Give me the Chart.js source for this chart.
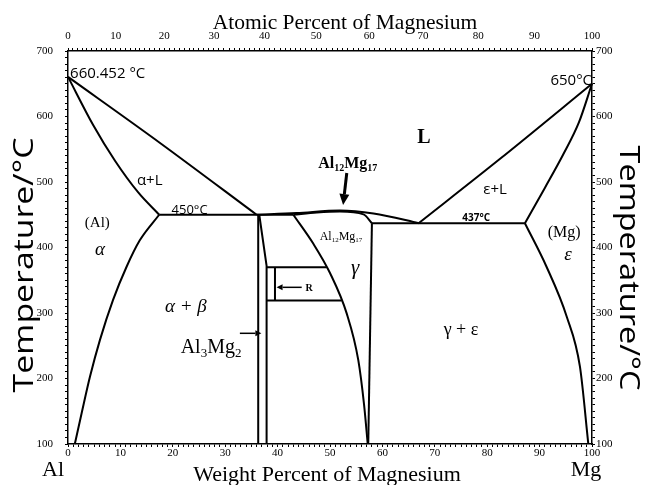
<!DOCTYPE html>
<html>
<head>
<meta charset="utf-8">
<script src="https://cdn.jsdelivr.net/npm/chart.js@4.4.1/dist/chart.umd.min.js"></script>
<style>
  html, body { margin: 0; padding: 0; background: #fff; }
</style>
</head>
<body>
<canvas id="chart" width="645" height="485"></canvas>
<script>
// phase boundaries, x = wt.% Mg, y = temperature in °C
const alLiquidusWt = [0, 17.5, 36.0];
const alLiquidusT = [660.452, 560, 450];
const alSolidusWt = [0, 4.8, 9.0, 13.4, 17.4];
const alSolidusT = [660.452, 587, 532, 484, 450];
const alSolvusWt = [1.3, 2.6, 4.2, 6.1, 8.6, 11.2, 13.7, 17.4];
const alSolvusT = [100, 147, 203, 259, 320, 371, 411, 450];
const eutectic450Wt = [17.4, 43.0];
const eutectic450T = [450, 450];
const betaLeftWt = [36.3, 36.3];
const betaLeftT = [450, 100];
const betaRightWt = [36.5, 37.9, 37.9];
const betaRightT = [450, 372, 100];
const rTopWt = [37.9, 49.4];
const rTopT = [370, 370];
const rBottomWt = [37.9, 52.2];
const rBottomT = [319, 319];
const rInnerWt = [39.5, 39.5];
const rInnerT = [370, 319];
const gammaLeftWt = [43.0, 46.8, 50.0, 53.2, 55.4, 56.5, 57.2];
const gammaLeftT = [450, 406, 361, 299, 228, 160, 100];
const gammaRightWt = [58.0, 57.3];
const gammaRightT = [437, 100];
const gammaSolidusWt = [43.0, 47.5, 51.9, 56.4, 58.0];
const gammaSolidusT = [450, 453.5, 455, 450.5, 437];
const gammaLiquidusWt = [36.0, 43.6, 51.9, 58.3, 65.9, 66.9];
const gammaLiquidusT = [450, 452.5, 456.5, 452, 439, 437];
const eutectic437Wt = [58.0, 87.2];
const eutectic437T = [437, 437];
const mgLiquidusWt = [66.9, 82.4, 100];
const mgLiquidusT = [437, 535, 650];
const mgSolidusWt = [87.2, 91.0, 94.5, 97.5, 100];
const mgSolidusT = [437, 491, 542, 591, 650];
const mgSolvusWt = [87.2, 91.3, 95.2, 97.7, 99.3];
const mgSolvusT = [437, 371, 294, 218, 100];

// tick labels
const weightTicks = [0, 10, 20, 30, 40, 50, 60, 70, 80, 90, 100];
const atomicTicks = [0, 10, 20, 30, 40, 50, 60, 70, 80, 90, 100];
const tempTicks = [100, 200, 300, 400, 500, 600, 700];

const M_AL = 26.982, M_MG = 24.305;
const atToWt = a => 100 * a * M_MG / (a * M_MG + (100 - a) * M_AL);
const wtToAt = w => 100 * (w / M_MG) / (w / M_MG + (100 - w) / M_AL);

const serif = "'Liberation Serif', 'Times New Roman', serif";
const sans = "'Open Sans', 'Noto Sans', sans-serif";

function curve(xs, ts, smooth) {
  return {
    data: xs.map((x, i) => ({ x: x, y: ts[i] })),
    showLine: true,
    borderColor: '#000',
    borderWidth: 2,
    pointRadius: 0,
    cubicInterpolationMode: smooth ? 'monotone' : 'default',
    tension: 0,
    clip: false
  };
}

function steps(min, max, step) {
  const out = [];
  for (let v = min; v <= max + 1e-9; v += step) out.push({ value: Math.round(v * 1000) / 1000 });
  return out;
}

// in-plot labels, placed in data coordinates
const plotLabels = [
  { x: 0.4, y: 664.9, text: '660.452 °C', font: `15px ${sans}`, align: 'left' },
  { x: 100, y: 654.2, text: '650°C', font: `15px ${sans}`, align: 'right' },
  { x: 67.9, y: 567.2, text: 'L', font: `bold 20px ${serif}` },
  { x: 15.6, y: 501.5, text: 'α+L', font: `15px ${sans}` },
  { x: 23.2, y: 457.3, text: '450°C', font: `13px ${sans}` },
  { x: 81.5, y: 487.8, text: 'ε+L', font: `15px ${sans}` },
  { x: 77.9, y: 445.0, text: '437°C', font: `bold 10px ${sans}` },
  { x: 5.6, y: 437.4, text: '(Al)', font: `15px ${serif}` },
  { x: 6.1, y: 396.2, text: 'α', font: `italic 19px ${serif}` },
  { x: 94.7, y: 422.2, text: '(Mg)', font: `16px ${serif}` },
  { x: 95.4, y: 388.5, text: 'ε', font: `italic 19px ${serif}` },
  { x: 54.8, y: 368.7, text: 'γ', font: `italic 21px ${serif}` },
  { x: 46.0, y: 338.2, text: 'R', font: `bold 10px ${serif}` },
  { x: 22.5, y: 309.2, text: 'α + β', font: `italic 19px ${serif}` },
  { x: 75.0, y: 274.0, text: 'γ + ε', font: `18px ${serif}` }
];

const arrows = [
  { x1: 53.2, y1: 513.7, x2: 52.5, y2: 464.9, width: 3, head: 11, half: 5 },
  { x1: 44.6, y1: 339.2, x2: 39.8, y2: 339.2, width: 1.5, head: 6, half: 3 },
  { x1: 32.8, y1: 269.0, x2: 36.9, y2: 269.0, width: 1.5, head: 6, half: 3 }
];

function drawParts(ctx, cx, baseline, parts) {
  let w = 0;
  parts.forEach(p => { ctx.font = p.font; p.w = ctx.measureText(p.t).width; w += p.w; });
  let x = cx - w / 2;
  ctx.textAlign = 'left';
  ctx.textBaseline = 'alphabetic';
  parts.forEach(p => { ctx.font = p.font; ctx.fillText(p.t, x, baseline + (p.dy || 0)); x += p.w; });
}

function drawStretched(ctx, text, font, cx, cy, angle, length) {
  ctx.save();
  ctx.font = font;
  const w = ctx.measureText(text).width;
  ctx.translate(cx, cy);
  ctx.rotate(angle);
  ctx.scale(length / w, 1);
  ctx.textAlign = 'center';
  ctx.textBaseline = 'middle';
  ctx.fillText(text, 0, 0);
  ctx.restore();
}

const textPlugin = {
  id: 'phaseText',
  afterDatasetsDraw(chart) {
    const ctx = chart.ctx;
    const sx = chart.scales.x, sy = chart.scales.y;
    ctx.save();
    ctx.fillStyle = '#000';
    ctx.strokeStyle = '#000';

    plotLabels.forEach(l => {
      ctx.font = l.font;
      ctx.textAlign = l.align || 'center';
      ctx.textBaseline = 'middle';
      ctx.fillText(l.text, sx.getPixelForValue(l.x), sy.getPixelForValue(l.y));
    });

    drawParts(ctx, sx.getPixelForValue(53.4), sy.getPixelForValue(521.4), [
      { t: 'Al', font: `bold 16px ${serif}` },
      { t: '12', font: `bold 10px ${serif}`, dy: 3 },
      { t: 'Mg', font: `bold 16px ${serif}` },
      { t: '17', font: `bold 10px ${serif}`, dy: 3 }
    ]);
    drawParts(ctx, sx.getPixelForValue(52.1), sy.getPixelForValue(411.5), [
      { t: 'Al', font: `12px ${serif}` },
      { t: '12', font: `7px ${serif}`, dy: 2 },
      { t: 'Mg', font: `12px ${serif}` },
      { t: '17', font: `7px ${serif}`, dy: 2 }
    ]);
    drawParts(ctx, sx.getPixelForValue(27.3), sy.getPixelForValue(239), [
      { t: 'Al', font: `20px ${serif}` },
      { t: '3', font: `13px ${serif}`, dy: 4 },
      { t: 'Mg', font: `20px ${serif}` },
      { t: '2', font: `13px ${serif}`, dy: 4 }
    ]);

    arrows.forEach(a => {
      const x1 = sx.getPixelForValue(a.x1), y1 = sy.getPixelForValue(a.y1);
      const x2 = sx.getPixelForValue(a.x2), y2 = sy.getPixelForValue(a.y2);
      const ang = Math.atan2(y2 - y1, x2 - x1);
      const bx = x2 - a.head * Math.cos(ang), by = y2 - a.head * Math.sin(ang);
      ctx.lineWidth = a.width;
      ctx.beginPath();
      ctx.moveTo(x1, y1);
      ctx.lineTo(bx, by);
      ctx.stroke();
      ctx.beginPath();
      ctx.moveTo(x2, y2);
      ctx.lineTo(bx + a.half * Math.sin(ang), by - a.half * Math.cos(ang));
      ctx.lineTo(bx - a.half * Math.sin(ang), by + a.half * Math.cos(ang));
      ctx.closePath();
      ctx.fill();
    });

    // axis titles and end labels
    ctx.textAlign = 'center';
    ctx.textBaseline = 'alphabetic';
    ctx.font = `21.5px ${serif}`;
    ctx.fillText('Atomic Percent of Magnesium', 345, 29);
    ctx.font = `22px ${serif}`;
    ctx.fillText('Weight Percent of Magnesium', 327, 481);
    ctx.fillText('Al', 53, 476);
    ctx.fillText('Mg', 586, 476);
    drawStretched(ctx, 'Temperature/°C', `27px ${sans}`, 25, 265, -Math.PI / 2, 255);
    drawStretched(ctx, 'Temperature/°C', `27px ${sans}`, 628, 268, Math.PI / 2, 245);
    ctx.restore();
  }
};

const axisBase = {
  type: 'linear',
  border: { display: true, color: '#000', width: 1.5 },
  grid: {
    drawOnChartArea: false,
    tickLength: 3,
    tickColor: '#000',
    tickWidth: 1
  }
};

new Chart(document.getElementById('chart'), {
  type: 'scatter',
  data: {
    datasets: [
      curve(alLiquidusWt, alLiquidusT, true),
      curve(alSolidusWt, alSolidusT, true),
      curve(alSolvusWt, alSolvusT, true),
      curve(eutectic450Wt, eutectic450T),
      curve(betaLeftWt, betaLeftT),
      curve(betaRightWt, betaRightT),
      curve(rTopWt, rTopT),
      curve(rBottomWt, rBottomT),
      curve(rInnerWt, rInnerT),
      curve(gammaLeftWt, gammaLeftT, true),
      curve(gammaRightWt, gammaRightT),
      curve(gammaSolidusWt, gammaSolidusT, true),
      curve(gammaLiquidusWt, gammaLiquidusT, true),
      curve(eutectic437Wt, eutectic437T),
      curve(mgLiquidusWt, mgLiquidusT, true),
      curve(mgSolidusWt, mgSolidusT, true),
      curve(mgSolvusWt, mgSolvusT, true)
    ]
  },
  options: {
    responsive: false,
    animation: false,
    devicePixelRatio: 1,
    layout: { padding: 0 },
    plugins: { legend: { display: false }, tooltip: { enabled: false } },
    scales: {
      x: Object.assign({}, axisBase, {
        position: 'bottom', min: 0, max: 100,
        afterBuildTicks: s => { s.ticks = steps(0, 100, 1); },
        afterFit: s => { s.height = 41; },
        ticks: {
          autoSkip: false, maxRotation: 0, padding: 0, color: '#000',
          font: { family: serif, size: 11 },
          callback: v => weightTicks.includes(v) ? String(v) : ''
        }
      }),
      xTop: Object.assign({}, axisBase, {
        position: 'top', min: 0, max: 100,
        afterBuildTicks: s => {
          const t = [];
          for (let a = 0; a <= 100; a++) t.push({ value: atToWt(a) });
          s.ticks = t;
        },
        afterFit: s => { s.height = 51; },
        ticks: {
          autoSkip: false, maxRotation: 0, padding: 5, color: '#000',
          font: { family: serif, size: 11 },
          callback: v => {
            const a = Math.round(wtToAt(v));
            return atomicTicks.includes(a) ? String(a) : '';
          }
        }
      }),
      y: Object.assign({}, axisBase, {
        position: 'left', min: 100, max: 700,
        afterBuildTicks: s => { s.ticks = steps(100, 700, 10); },
        afterFit: s => { s.width = 68; },
        ticks: {
          autoSkip: false, padding: 12, color: '#000',
          font: { family: serif, size: 11 },
          callback: v => tempTicks.includes(v) ? String(v) : ''
        }
      }),
      yRight: Object.assign({}, axisBase, {
        position: 'right', min: 100, max: 700,
        afterBuildTicks: s => { s.ticks = steps(100, 700, 10); },
        afterFit: s => { s.width = 53; },
        ticks: {
          autoSkip: false, padding: 1, color: '#000',
          font: { family: serif, size: 11 },
          callback: v => tempTicks.includes(v) ? String(v) : ''
        }
      })
    }
  },
  plugins: [textPlugin]
});
</script>
</body>
</html>
